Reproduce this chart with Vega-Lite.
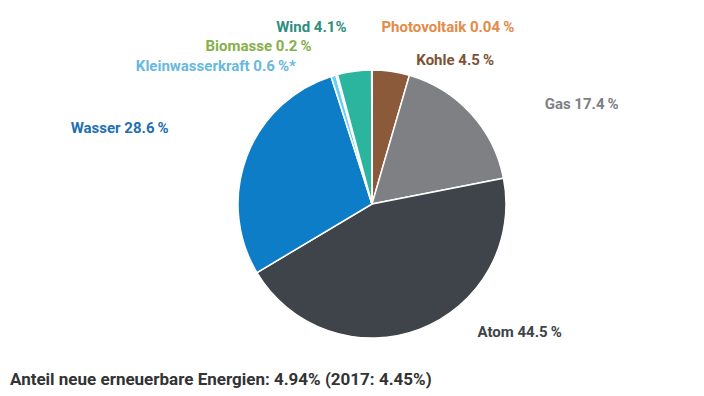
{
  "$schema": "https://vega.github.io/schema/vega-lite/v6.json",
  "width": 664,
  "height": 288,
  "autosize": "none",
  "padding": {"left": 40, "top": 60, "right": 0, "bottom": 48},
  "background": "white",
  "view": {"stroke": null},
  "config": {"text": {"font": "Roboto", "fontSize": 15, "fontWeight": "bold", "baseline": "middle", "align": "center", "radius": 150}},
  "title": {"text": "Anteil neue erneuerbare Energien: 4.94% (2017: 4.45%)", "orient": "bottom", "anchor": "start", "frame": "group", "dx": -30, "offset": 14, "fontSize": 17, "fontWeight": "bold", "font": "Roboto", "color": "#333333"},
  "data": {"values": [
    {"name": "Kohle", "value": 4.5, "rank": 1, "label": "Kohle 4.5\u2009%"},
    {"name": "Gas", "value": 17.4, "rank": 2, "label": "Gas 17.4\u2009%"},
    {"name": "Atom", "value": 44.5, "rank": 3, "label": "Atom 44.5\u2009%"},
    {"name": "Wasser", "value": 28.6, "rank": 4, "label": "Wasser 28.6\u2009%"},
    {"name": "Kleinwasserkraft", "value": 0.6, "rank": 5, "label": "Kleinwasserkraft 0.6\u2009%*"},
    {"name": "Biomasse", "value": 0.2, "rank": 6, "label": "Biomasse 0.2\u2009%"},
    {"name": "Wind", "value": 4.1, "rank": 7, "label": "Wind 4.1%"},
    {"name": "Photovoltaik", "value": 0.04, "rank": 8, "label": "Photovoltaik 0.04\u2009%"}
  ]},
  "encoding": {
    "theta": {"field": "value", "type": "quantitative", "stack": true},
    "order": {"field": "rank", "type": "quantitative"}
  },
  "layer": [
    {
      "mark": {"type": "arc", "outerRadius": 134, "stroke": "white", "strokeWidth": 1.5},
      "encoding": {
        "color": {"field": "name", "type": "nominal", "legend": null,
          "scale": {"domain": ["Kohle", "Gas", "Atom", "Wasser", "Kleinwasserkraft", "Biomasse", "Wind", "Photovoltaik"],
                    "range": ["#8B5A3A", "#7F8083", "#3E4449", "#0E7DC8", "#6CCEF2", "#8CC33F", "#2BB59E", "#EE9239"]}}
      }
    },
    {"mark": {"type": "text", "dx": 62, "dy": 5, "color": "#7E5236"},
     "encoding": {"text": {"condition": {"test": "datum.name === 'Kohle'", "field": "label"}, "value": ""}}},
    {"mark": {"type": "text", "dx": 99, "dy": 1, "color": "#7F8083"},
     "encoding": {"text": {"condition": {"test": "datum.name === 'Gas'", "field": "label"}, "value": ""}}},
    {"mark": {"type": "text", "dx": 94, "dy": -12, "color": "#3E4449"},
     "encoding": {"text": {"condition": {"test": "datum.name === 'Atom'", "field": "label"}, "value": ""}}},
    {"mark": {"type": "text", "dx": -112, "dy": -23, "color": "#226FAF"},
     "encoding": {"text": {"condition": {"test": "datum.name === 'Wasser'", "field": "label"}, "value": ""}}},
    {"mark": {"type": "text", "dx": -113, "dy": 6, "color": "#68B9DC"},
     "encoding": {"text": {"condition": {"test": "datum.name === 'Kleinwasserkraft'", "field": "label"}, "value": ""}}},
    {"mark": {"type": "text", "dx": -74, "dy": -13, "color": "#86B04A"},
     "encoding": {"text": {"condition": {"test": "datum.name === 'Biomasse'", "field": "label"}, "value": ""}}},
    {"mark": {"type": "text", "dx": -41, "dy": -28, "color": "#2E8E80"},
     "encoding": {"text": {"condition": {"test": "datum.name === 'Wind'", "field": "label"}, "value": ""}}},
    {"mark": {"type": "text", "dx": 76, "dy": -27, "color": "#E38B47"},
     "encoding": {"text": {"condition": {"test": "datum.name === 'Photovoltaik'", "field": "label"}, "value": ""}}}
  ]
}
